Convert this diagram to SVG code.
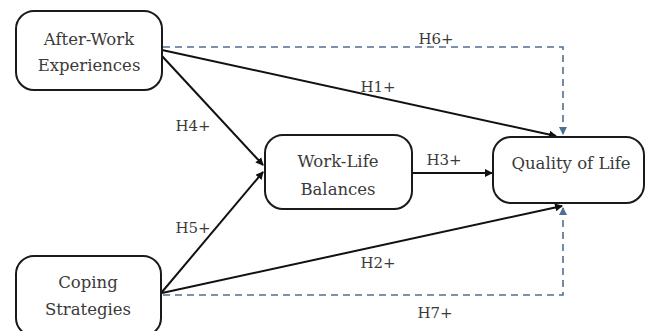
<svg xmlns="http://www.w3.org/2000/svg" width="646" height="331" viewBox="0 0 646 331">
<style>
.node{fill:#fff;stroke:#1a1a1a;stroke-width:2}
.t{font-family:"DejaVu Serif","Liberation Serif",serif;font-size:15px;fill:#3a3a3a;text-anchor:middle}
.n{font-size:16.5px}
.solid{stroke:#111;stroke-width:2;fill:none}
.dash{stroke:#4f6f92;stroke-width:1.6;fill:none;stroke-dasharray:7,5}
</style>
<defs>
<marker id="ah" markerWidth="8" markerHeight="8" refX="7" refY="4" orient="auto" markerUnits="userSpaceOnUse">
<path d="M0,0 L8,4 L0,8 z" fill="#111"/>
</marker>
<marker id="ahb" markerWidth="8" markerHeight="8" refX="7" refY="4" orient="auto" markerUnits="userSpaceOnUse">
<path d="M0,0 L8,4 L0,8 z" fill="#4f6f92"/>
</marker>
</defs>
<g id="connectors">
<polyline class="dash" points="163,47 563,47 563,134" marker-end="url(#ahb)"/>
<polyline class="dash" points="163,295 563,295 563,208" marker-end="url(#ahb)"/>
<line class="solid" x1="162" y1="50" x2="556" y2="136" marker-end="url(#ah)"/>
<line class="solid" x1="162" y1="56" x2="263" y2="165" marker-end="url(#ah)"/>
<line class="solid" x1="162" y1="292" x2="263" y2="172" marker-end="url(#ah)"/>
<line class="solid" x1="412" y1="173" x2="492" y2="173" marker-end="url(#ah)"/>
<line class="solid" x1="162" y1="293" x2="562" y2="206" marker-end="url(#ah)"/>
<text class="t" x="436" y="44">H6+</text>
<text class="t" x="378" y="92">H1+</text>
<text class="t" x="193" y="131">H4+</text>
<text class="t" x="193" y="233">H5+</text>
<text class="t" x="444" y="165">H3+</text>
<text class="t" x="378" y="268">H2+</text>
<text class="t" x="435" y="318">H7+</text>
</g>
<g id="after-work">
<rect class="node" x="16" y="11" width="146" height="79" rx="18"/>
<text class="t n" x="89" y="45">After-Work</text>
<text class="t n" x="89" y="71">Experiences</text>
</g>
<g id="work-life">
<rect class="node" x="265" y="135" width="147" height="74" rx="18"/>
<text class="t n" x="338" y="167">Work-Life</text>
<text class="t n" x="338" y="195">Balances</text>
</g>
<g id="quality">
<rect class="node" x="493" y="137" width="151" height="66" rx="18"/>
<text class="t n" x="571" y="169">Quality of Life</text>
</g>
<g id="coping">
<rect class="node" x="16" y="256" width="145" height="80" rx="18"/>
<text class="t n" x="88" y="288">Coping</text>
<text class="t n" x="88" y="315">Strategies</text>
</g>
</svg>
